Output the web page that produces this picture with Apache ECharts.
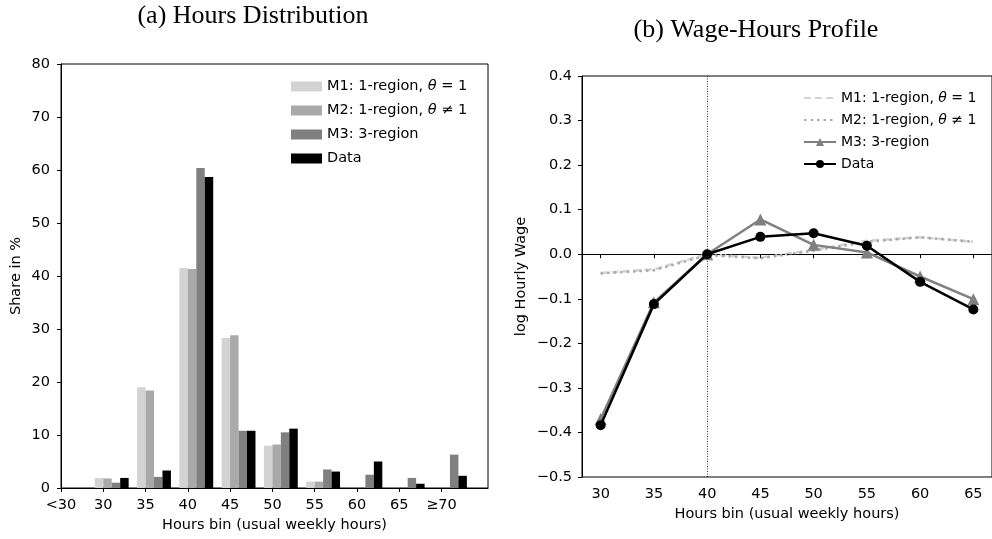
<!DOCTYPE html>
<html><head><meta charset="utf-8">
<script src="https://cdn.jsdelivr.net/npm/echarts@6/dist/echarts.min.js"></script>
<style>html,body{margin:0;padding:0;background:#fff}#c{width:992px;height:539px}</style>
</head><body><div id="c"></div>
<script>
// ---- data ----
const binLabels = ['<30','30','35','40','45','50','55','60','65','≥70'];
const shareM1   = [0, 1.9, 19.0, 41.5, 28.3, 8.0, 1.2, 0, 0, 0];
const shareM2   = [0, 1.8, 18.4, 41.3, 28.8, 8.2, 1.2, 0, 0, 0];
const shareM3   = [0, 1.0, 2.1, 60.4, 10.8, 10.5, 3.5, 2.5, 1.9, 6.3];
const shareData = [0, 1.9, 3.3, 58.7, 10.8, 11.2, 3.1, 5.0, 0.8, 2.3];
const shareTicks = [0,10,20,30,40,50,60,70,80];

const wageHours = [30,35,40,45,50,55,60,65];
const wageM1   = [-0.042,-0.034, 0.000,-0.008, 0.010, 0.030, 0.038, 0.028];
const wageM2   = [-0.043,-0.036,-0.002,-0.009, 0.008, 0.028, 0.038, 0.028];
const wageM3   = [-0.370,-0.108, 0.000, 0.078, 0.021, 0.004,-0.050,-0.101];
const wageData = [-0.384,-0.112, 0.000, 0.039, 0.047, 0.019,-0.062,-0.124];

const seriesNames = ['M1: 1-region, θ = 1','M2: 1-region, θ ≠ 1','M3: 3-region','Data'];
const titles = ['(a) Hours Distribution','(b) Wage-Hours Profile'];

// ---- chart ----
const FONT = 'DejaVu Sans';
const SERIF = 'Liberation Serif';
const FS = 14.5;
const FS2 = 14;
const barColors = ['#d3d3d3','#a9a9a9','#808080','#000000'];
const barValues = [shareM1, shareM2, shareM3, shareData];
const lineValues = [wageM1, wageM2, wageM3, wageData];
const groupShift = 0.2; // bar group is offset to the right of each tick

function legendFmt(name){
  const i = name.indexOf('θ');
  if (i < 0) return '{n|' + name + '}';
  return '{n|' + name.slice(0,i) + '}{it|θ}{n|' + name.slice(i+1) + '}';
}
function minusFmt(v){ return v.toFixed(1).replace('-', '\u2212'); }

const chart = echarts.init(document.getElementById('c'), null, {renderer:'canvas'});

const axisCommon = {
  axisLine:{show:true, lineStyle:{color:'#000', width:1}},
  axisTick:{show:true, inside:false, length:4, lineStyle:{color:'#000', width:1}},
  splitLine:{show:false}
};

const series = [];
barValues.forEach((vals, k) => {
  series.push({
    name: seriesNames[k], type:'bar', xAxisIndex:0, yAxisIndex:0,
    barWidth: 8.46, barGap:'0%',
    itemStyle:{color: barColors[k]},
    data: vals.map((v,i) => [i + groupShift, v]),
    silent:true, animation:false
  });
});
const lineStyles = [
  {color:'#d3d3d3', type:[7,4], width:2.5, symbol:'none', size:0},
  {color:'#a9a9a9', type:[2.5,4], width:2.5, symbol:'none', size:0},
  {color:'#808080', type:'solid', width:2.5, symbol:'triangle', size:12},
  {color:'#000000', type:'solid', width:2.5, symbol:'circle', size:10}
];
lineValues.forEach((vals, k) => {
  const s = lineStyles[k];
  series.push({
    name: seriesNames[k] + ' ', type:'line', xAxisIndex:1, yAxisIndex:1,
    symbol: s.symbol, symbolSize: s.size, showSymbol: s.symbol !== 'none',
    lineStyle:{color:s.color, type:s.type, width:s.width},
    itemStyle:{color:s.color},
    data: vals.map((v,i) => [wageHours[i], v]),
    z: 3 + k, animation:false,
    markLine: k === 0 ? {
      silent:true, symbol:'none', label:{show:false}, animation:false,
      data:[
        {yAxis:0, lineStyle:{color:'#000', type:[3,2], width:0.8}},
        {xAxis:40, lineStyle:{color:'#000', type:[1,1.5], width:0.8}}
      ]
    } : undefined
  });
});

function richStyle(fs){
  return {
    n:{fontFamily:FONT, fontSize:fs, color:'#000'},
    it:{fontFamily:FONT, fontStyle:'italic', fontSize:fs, color:'#000'}
  };
}

const option = {
  backgroundColor:'#fff',
  animation:false,
  title:[
    {text:titles[0], left:248, top:-2, textAlign:'center',
     textStyle:{fontFamily:SERIF, fontSize:26, fontWeight:'normal', color:'#000'}},
    {text:titles[1], left:751, top:12, textAlign:'center',
     textStyle:{fontFamily:SERIF, fontSize:26, fontWeight:'normal', color:'#000'}}
  ],
  grid:[
    {left:61, top:64, width:427, height:424, show:true, borderColor:'#000', borderWidth:1, backgroundColor:'transparent'},
    {left:582, top:76, width:412, height:401, show:true, borderColor:'#000', borderWidth:1, backgroundColor:'transparent'}
  ],
  legend:[
    {
      orient:'vertical', left:286, top:74, itemWidth:31, itemHeight:10, itemGap:9,
      icon:'rect',
      data: seriesNames,
      formatter: legendFmt,
      textStyle:{fontFamily:FONT, fontSize:FS, color:'#000', rich:richStyle(FS)},
      selectedMode:false
    },
    {
      orient:'vertical', left:798, top:86, itemWidth:32, itemHeight:10, itemGap:8,
      data: seriesNames.map((n, k) => k < 2
        ? {name: n + ' ', itemStyle:{opacity:0}}
        : {name: n + ' '}),
      formatter: n => legendFmt(n.trim()),
      textStyle:{fontFamily:FONT, fontSize:FS2, color:'#000', rich:richStyle(FS2)},
      selectedMode:false
    }
  ],
  xAxis:[
    Object.assign({}, axisCommon, {
      type:'value', gridIndex:0, min:0, max:10.1, interval:1,
      axisTick:{show:true, length:4, customValues: binLabels.map((_,i)=>i), lineStyle:{color:'#000'}},
      axisLabel:{show:true, customValues: binLabels.map((_,i)=>i), margin:10,
        fontFamily:FONT, fontSize:FS, color:'#000',
        formatter: v => binLabels[Math.round(v)] || ''},
      name:'Hours bin (usual weekly hours)', nameLocation:'middle', nameGap:30,
      nameTextStyle:{fontFamily:FONT, fontSize:FS, color:'#000'}
    }),
    Object.assign({}, axisCommon, {
      type:'value', gridIndex:1, min:28.25, max:66.75,
      axisTick:{show:true, length:4, customValues: wageHours, lineStyle:{color:'#000'}},
      axisLabel:{show:true, customValues: wageHours, margin:10,
        fontFamily:FONT, fontSize:FS, color:'#000'},
      name:'Hours bin (usual weekly hours)', nameLocation:'middle', nameGap:30,
      nameTextStyle:{fontFamily:FONT, fontSize:FS, color:'#000'}
    })
  ],
  yAxis:[
    Object.assign({}, axisCommon, {
      type:'value', gridIndex:0, min:shareTicks[0], max:shareTicks[shareTicks.length-1], interval:10,
      axisLabel:{fontFamily:FONT, fontSize:FS, color:'#000', margin:11},
      name:'Share in %', nameLocation:'middle', nameGap:37, nameRotate:90,
      nameTextStyle:{fontFamily:FONT, fontSize:FS, color:'#000'}
    }),
    Object.assign({}, axisCommon, {
      type:'value', gridIndex:1, min:-0.5, max:0.4, interval:0.1,
      axisLabel:{fontFamily:FONT, fontSize:FS, color:'#000', margin:10, formatter: minusFmt},
      name:'log Hourly Wage', nameLocation:'middle', nameGap:53, nameRotate:90,
      nameTextStyle:{fontFamily:FONT, fontSize:FS, color:'#000'}
    })
  ],
  series: series
};
chart.setOption(option);
</script>
</body></html>
